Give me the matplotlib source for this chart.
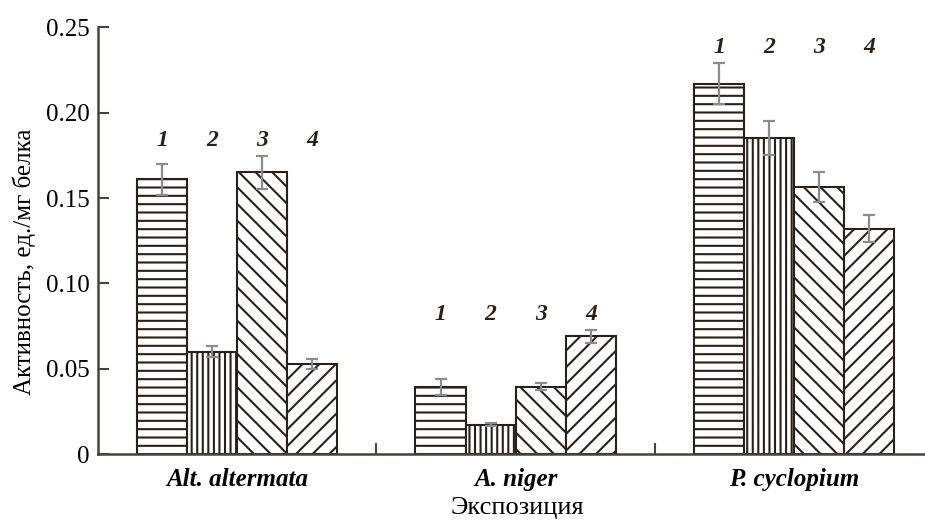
import numpy as np
import matplotlib
matplotlib.use("Agg")
import matplotlib.pyplot as plt

# Fungal species and activity per variant (1-4)
species = ["Alt. altermata", "A. niger", "P. cyclopium"]
variants = ["1", "2", "3", "4"]
activity = [
    [0.161, 0.060, 0.165, 0.053],
    [0.0395, 0.0172, 0.0396, 0.069],
    [0.217, 0.185, 0.1565, 0.132],
]
errors = [
    [0.009, 0.0033, 0.0095, 0.003],
    [0.0047, 0.001, 0.0022, 0.0037],
    [0.012, 0.0100, 0.0088, 0.0078],
]
hatches = ["--", "|||", "\\\\", "//"]

plt.rcParams["font.family"] = ["Liberation Serif", "DejaVu Serif"]
plt.rcParams["hatch.linewidth"] = 1.5
plt.rcParams["hatch.color"] = "#2b2018"

ink = "#2b2018"
axis_col = "#4a423c"

fig = plt.figure(figsize=(9.25, 5.25), dpi=100)
ax = fig.add_axes([0.106, 0.135, 0.903, 0.813])

width = 0.18
x = np.arange(len(species))
act = np.array(activity)
err = np.array(errors)

for j in range(len(variants)):
    pos = x + (j - 1.5) * width
    ax.bar(pos, act[:, j], width=width, facecolor="white", edgecolor=ink,
           hatch=hatches[j], linewidth=1.5, zorder=2)
    ax.errorbar(pos, act[:, j], yerr=err[:, j], fmt="none", ecolor="#8c8c8c",
                elinewidth=1.6, capsize=4, capthick=1.6, zorder=3)

# variant numbers above each group
for i in range(len(species)):
    y_lab = (act[i] + err[i]).max() + 0.009
    for j, v in enumerate(variants):
        ax.text(x[i] + (j - 1.5) * width, y_lab, v, ha="center", va="center",
                fontsize=17, fontstyle="italic", fontweight="bold", color=ink)

ax.set_xlim(-0.5, 2.5)
ax.set_ylim(0, 0.25)
ax.set_yticks([0, 0.05, 0.10, 0.15, 0.20, 0.25])
ax.set_yticklabels(["0", "0.05", "0.10", "0.15", "0.20", "0.25"], fontsize=18)

ax.set_xticks([0.5, 1.5, 2.5])
ax.set_xticklabels([])
ax.set_xticks(x, minor=True)
ax.set_xticklabels(species, minor=True, fontsize=18, fontstyle="italic",
                   fontweight="bold")
ax.tick_params(axis="x", which="minor", length=0, pad=10)
ax.tick_params(axis="both", which="major", direction="in", length=8,
               width=1.5, color=axis_col)
ax.tick_params(axis="y", pad=6)

for s in ["top", "right"]:
    ax.spines[s].set_visible(False)
for s in ["left", "bottom"]:
    ax.spines[s].set_color(axis_col)
    ax.spines[s].set_linewidth(1.8)

ax.set_ylabel("Активность, ед./мг белка", fontsize=18, va="center")
ax.yaxis.set_label_coords(-0.088, 0.45)
fig.text(0.559, 0.032, "Экспозиция", ha="center", va="center", fontsize=19)

fig.savefig("out.png", dpi=100)
